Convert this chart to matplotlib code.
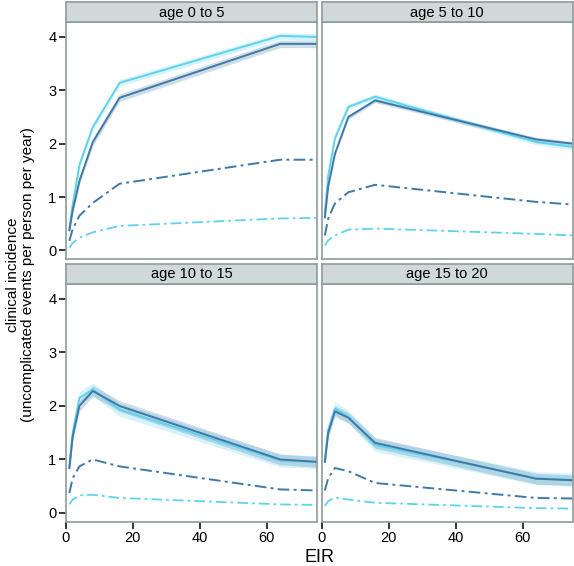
import matplotlib
matplotlib.use("Agg")
import matplotlib.pyplot as plt

plt.rcParams["font.family"] = ["Liberation Sans", "DejaVu Sans"]

# EIR values at which the model was evaluated
eir = [1, 2, 4, 8, 16, 64, 75]

panel_titles = ["age 0 to 5", "age 5 to 10", "age 10 to 15", "age 15 to 20"]

# solid lines (all clinical episodes), two model variants
solid_dark = [
    [0.38, 0.75, 1.30, 2.03, 2.86, 3.87, 3.87],
    [0.62, 1.20, 1.81, 2.50, 2.81, 2.08, 2.00],
    [0.84, 1.43, 2.00, 2.28, 2.00, 1.00, 0.955],
    [0.955, 1.50, 1.90, 1.78, 1.31, 0.64, 0.61],
]
solid_light = [
    [0.40, 0.86, 1.60, 2.31, 3.14, 4.02, 4.00],
    [0.70, 1.40, 2.10, 2.69, 2.88, 2.03, 1.94],
    [0.86, 1.50, 2.15, 2.31, 1.93, 0.98, 0.95],
    [0.98, 1.55, 1.95, 1.80, 1.27, 0.65, 0.62],
]
# dash-dot lines
dash_dark = [
    [0.18, 0.40, 0.65, 0.89, 1.25, 1.70, 1.70],
    [0.28, 0.60, 0.88, 1.09, 1.23, 0.91, 0.86],
    [0.37, 0.65, 0.87, 1.00, 0.87, 0.44, 0.42],
    [0.42, 0.65, 0.84, 0.78, 0.56, 0.28, 0.27],
]
dash_light = [
    [0.05, 0.14, 0.24, 0.34, 0.46, 0.60, 0.61],
    [0.09, 0.19, 0.28, 0.39, 0.41, 0.31, 0.28],
    [0.16, 0.25, 0.33, 0.34, 0.28, 0.16, 0.15],
    [0.13, 0.22, 0.29, 0.25, 0.19, 0.09, 0.08],
]
# half-width of the uncertainty ribbons (dark, light)
band_dark = [0.07, 0.04, 0.10, 0.10]
band_light = [0.06, 0.05, 0.12, 0.12]

dark = "#3f79a6"
light = "#5ed3ee"
border = "#8c9c98"
strip_bg = "#cfd9d9"
dashdot = (0, (6, 2.2, 1.5, 2.2))

W, H = 574, 566
fig = plt.figure(figsize=(W / 100, H / 100), dpi=100)

# panel boxes in pixels: (left, right) and (strip top, plot top, plot bottom)
cols = [(66, 317), (321.5, 573)]
rows = [(2, 22, 259), (263.5, 284, 521.5)]

for i in range(4):
    r, c = divmod(i, 2)
    x0, x1 = cols[c]
    s0, p0, p1 = rows[r]
    ax = fig.add_axes([x0 / W, 1 - p1 / H, (x1 - x0) / W, (p1 - p0) / H])
    sx = fig.add_axes([x0 / W, 1 - p0 / H, (x1 - x0) / W, (p0 - s0) / H])

    sx.set_facecolor(strip_bg)
    sx.set_xticks([])
    sx.set_yticks([])
    for sp in sx.spines.values():
        sp.set_color(border)
        sp.set_linewidth(1.2)
    sx.text(0.5, 0.47, panel_titles[i], ha="center", va="center",
            fontsize=10.5, transform=sx.transAxes)

    lo_d = [v - band_dark[i] for v in solid_dark[i]]
    hi_d = [v + band_dark[i] for v in solid_dark[i]]
    lo_l = [v - band_light[i] for v in solid_light[i]]
    hi_l = [v + band_light[i] for v in solid_light[i]]
    ax.fill_between(eir, lo_l, hi_l, color=light, alpha=0.25, lw=0)
    ax.fill_between(eir, lo_d, hi_d, color=dark, alpha=0.25, lw=0)
    ax.plot(eir, solid_light[i], color=light, lw=1.4)
    ax.plot(eir, solid_dark[i], color=dark, lw=1.4)
    ax.plot(eir, dash_dark[i], color=dark, lw=1.4, linestyle=dashdot)
    ax.plot(eir, dash_light[i], color=light, lw=1.3, linestyle=dashdot)

    ax.set_xlim(0, 75)
    ax.set_ylim(-0.16, 4.28)
    ax.set_xticks([0, 20, 40, 60])
    ax.set_yticks([0, 1, 2, 3, 4])
    for sp in ax.spines.values():
        sp.set_color(border)
        sp.set_linewidth(1.2)
    ax.tick_params(direction="out", length=5, width=1.1, labelsize=10.5,
                   color="black", pad=2)
    if c == 1:
        ax.tick_params(axis="y", left=False, labelleft=False)
    if r == 0:
        ax.tick_params(axis="x", bottom=False, labelbottom=False)

fig.text(319 / W, 1 - 557 / H, "EIR", ha="center", va="center", fontsize=13)
fig.text(13.5 / W, 1 - 275 / H, "clinical incidence", ha="center",
         va="center", rotation=90, fontsize=11)
fig.text(28.5 / W, 1 - 275 / H, "(uncomplicated events per person per year)",
         ha="center", va="center", rotation=90, fontsize=11)

fig.savefig("out.png", dpi=100)
